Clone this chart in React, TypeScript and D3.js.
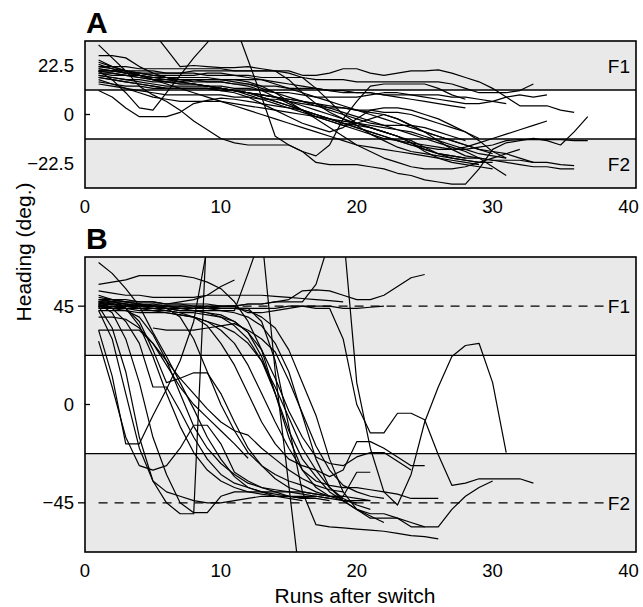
import React from "react";
import * as d3 from "d3";

// ---------- data ----------
const X_TICKS = [0, 10, 20, 30, 40];
const A_TICKS = [-22.5, 0, 22.5];
const B_TICKS = [-45, 0, 45];
const A_RANGE = 33.75;
const A_BAND = 11.25;
const B_RANGE = 67.5;
const B_BAND = 22.5;
const A_FLEVEL = 22.5;
const B_FLEVEL = 45;

type Traj = { start: number; values: number[] };

// Panel A: heading per run (deg.)
const panelA: Traj[] = [
  { start: 1, values: [32, 26, 20, 13, 9, 6, 2, -3, -7, -11, -13, -14, -14, -14, -14, -17, -22, -23, -23, -23, -24, -25, -27, -28, -30, -31, -32, -32, -25, -16, -13, -12, -11, -12, -14, -8, -1] },
  { start: 1, values: [27, 27, 26, 22, 19, 17, 15, 14, 13, 12, 11, 10, 9, 8, 6, 4, 2, 0, -2, -4, -6, -8, -10, -12, -15, -18, -20, -21, -22, -22] },
  { start: 5, values: [38, 30, 22, 22.5, 22, 21.5, 21.5, 22, 21, 20, 16, 10, 5, 1, -2, -5, -9, -12, -15, -17, -18, -19, -20, -21, -22] },
  { start: 1, values: [11, 8, 3, -1, -1, -1, 1, 5, 6.5, 7.5, 7, 6, 5, 4, 3, 2, 0, -2, -4, -5, -6, -8, -10, -13, -16, -18, -19, -20] },
  { start: 1, values: [20, 20, 20, 20, 20, 19, 19, 19, 18, 18, 18, 18, 17, 17, 17, 17, 16, 16, 16, 15, 15, 15, 15, 15, 15, 15, 14, 12, 10, 10, 10, 11, 14] },
  { start: 1, values: [22, 22, 22, 21, 21, 21, 21, 21, 21, 21, 20, 20, 20, 20, 20, 18, 18, 19, 21, 21, 19, 18, 19, 20, 20, 20.5, 19, 17, 15, 12, 8, 4, 4, 4, 2, 1] },
  { start: 1, values: [20, 16, 10, 3, 2, 10, 18, 26, 33, 42, 42, 25, 8, -10, -14, -17, -19, -14, -2, 6, 13, 14, 14, 14, 14, 12, 9, 7] },
  { start: 1, values: [18, 17, 16, 15, 14, 13, 13, 13, 13, 13, 12, 12, 11, 10, 10, 9, 8, 8, 8, 8, 9, 10, 10, 9, 8, 7, 6, 5, 5, 6, 8, 9, 8, 9] },
  { start: 1, values: [24, 22, 20, 18, 16, 15, 14, 14, 13, 12, 11, 9, 7, 5, 3, 1, -1, -3, -5, -7, -9, -11, -12, -13, -14, -15, -16, -16, -15, -14, -12, -11.5, -11.5, -11.5, -11.5, -12, -12] },
  { start: 1, values: [19, 18, 18, 17, 16, 15, 14, 14, 13, 12, 11, 10, 8, 6, 4, 2, 0, -2, -4, -6, -8, -10, -12, -14, -16, -18, -19, -20, -20, -21, -21, -21, -22, -22, -23, -23.5] },
  { start: 1, values: [21, 20, 19, 18, 17, 16, 15, 14, 13, 12, 11, 10, 9, 8, 7, 6, 5, 3, 1, -1, -3, -5, -7, -9, -11, -13, -15, -17, -20, -24, -28] },
  { start: 1, values: [17, 16, 15, 14, 13, 12, 12, 12, 12, 11, 11, 10, 8, 6, 4, 2, 0, -2, -4, -6, -8, -10, -12, -14, -15, -16, -16, -15, -13, -11, -9, -7, -5, -3] },
  { start: 1, values: [16, 14, 12, 10, 8, 7, 6, 6, 6, 6, 5, 4, 3, 2, 1, 0, -1, -2, -3, -4, -5, -6, -7, -8, -10, -12, -14, -16, -18, -19, -20] },
  { start: 1, values: [23, 21, 19, 18, 17, 17, 16, 16, 15, 15, 14, 13, 11, 8, 5, 2, -1, -3, -5, -4, -2, 0, -2, -5, -8, -10, -12, -14, -16, -18] },
  { start: 1, values: [18, 17, 16, 16, 15, 15, 15, 16, 16, 16, 15, 14, 12, 10, 8, 6, 4, 2, 0, -2, -4, -5, -5, -5, -6, -8, -10, -12] },
  { start: 1, values: [15, 14, 13, 13, 12, 12, 12, 12, 12, 11, 10, 8, 5, 2, -1, -4, -6, -8, -6, -2, 2, 3, 3, 2, 0, -2, -5, -8, -11] },
  { start: 1, values: [25, 22, 20, 18, 16, 14, 12, 10, 8, 6, 4, 2, 0, -2, -4, -6, -8, -10, -12, -14, -15, -16, -17, -18, -19, -20, -21, -22, -23] },
  { start: 1, values: [19, 19, 18, 18, 17, 17, 17, 17, 17, 16, 16, 15, 13, 10, 6, 2, -2, -6, -10, -14, -17, -20, -22, -24, -25, -25, -25, -24, -22, -20, -18, -16] },
  { start: 1, values: [21, 20, 19, 19, 18, 18, 18, 18, 19, 19, 18, 17, 16, 14, 12, 10, 8, 6, 4, 2, 0, -2, -4, -6, -8, -10, -12, -14, -16, -17, -18, -20, -22] },
  { start: 1, values: [14, 13, 12, 11, 10, 9, 9, 9, 9, 9, 8, 8, 7, 7, 6, 5, 4, 3, 3, 2, 2, 1, 1, 0, -2, -4, -6, -8, -12, -17, -20] },
  { start: 1, values: [22, 21, 20, 19, 18, 17, 16, 16, 16, 16, 16, 16, 16, 15, 14, 13, 12, 11, 10, 10, 10, 9, 8, 7, 6, 5, 4, 3] },
  { start: 1, values: [20, 20, 20, 19, 19, 19, 19, 20, 20, 20, 20, 20, 20, 20, 19, 17, 12, 6, 0, -4, -6, -8, -10, -13, -17, -20, -22, -23, -24, -25] },
  { start: 1, values: [17, 16, 15, 14, 13, 12, 12, 12, 12, 12, 11, 10, 9, 8, 7, 6, 5, 4, 3, 2, 1, 0, -2, -5, -8, -12, -16, -19, -20, -21, -22, -23, -24, -24, -25, -25] },
  { start: 1, values: [20, 19, 18, 17, 16, 16, 16, 15, 15, 15, 14, 14, 13, 13, 12, 12, 12, 11, 11, 10, 10, 9, 9, 9, 9, 9, 8, 8, 7, 6, 5] },
];

// Panel B: heading per run (deg.)
const panelB: Traj[] = [
  { start: 1, values: [47, 48, 48, 47, 47, 46, 46, 46, 46, 45, 45, 46, 46, 47, 48, 52, 52.5, 52, 50, 48, 48, 50, 54, 58, 59.5] },
  { start: 1, values: [52, 51, 50, 50, 49, 49, 49, 49, 50, 50, 50, 50, 50, 49.5, 49, 48.5, 48, 47.5, 47] },
  { start: 1, values: [44, 45, 45, 46, 45, 45, 44, 44, 45, 45, 45, 42, 42, 43, 44, 45, 45, 45, 44, 44, 44.5, 45] },
  { start: 1, values: [55, 56, 57, 59, 59, 59, 59, 58, 56, 53, 47, 38, 25, 5, -15, -30, -38, -42, -44, -45] },
  { start: 1, values: [48, 47, 46, 45, 46, 46, 47, 48, 50, 54, 57] },
  { start: 1, values: [45, 35, 15, -15, -35, -45, -50, -50, 85] },
  { start: 1, values: [34, 13, -18, -18, -5, 7, 20, 38, 72] },
  { start: 1, values: [44, 44, 45, 44, 44, 44, 43, 43, 43, 43, 43, 60, 78, 15, -37, -90] },
  { start: 1, values: [65, 60, 53, 45, 33, 22, 10, -2, -15, -25, -33, -38, -40, -42, -43, -44] },
  { start: 5, values: [35, 34, 34, 34, 35, 36, 37, 34, 30, 24, 11, -4, -19, -30, -37, -40, -42, -43] },
  { start: 1, values: [29, 8, -15, -28, -30, -28, -20, -9.5, -9.5, -18, -31, -35, -38, -40, -42, -43] },
  { start: 1, values: [46, 46, 44, 38, 25, 10, 12, 14.5, 14.5, 5, -8, -20, -28, -34, -38, -40, -41, -42, -43] },
  { start: 1, values: [47, 44, 38, 28, 8, 8, -3, -15, -25, -32, -36, -38, -40, -41, -42, -42.5, -43] },
  { start: 1, values: [46, 42, 30, 10, -15, -32, -45, -49.5, -49.5, -42, -40, -40, -40, -40, -40, -41, -42, -43, -44, -44, -44] },
  { start: 1, values: [46, 47, 47, 46, 46, 45, 45, 45, 44, 44, 44, 44, 38, 20, -10, -40, -55, -56, -56.5, -57, -57.5, -58, -59, -60, -60.5, -61.5] },
  { start: 1, values: [45, 46, 46, 45, 45, 44, 44, 43, 42, 40, 36, 30, 20, 5, -12, -25, -33, -40, -44, -48, -51, -54] },
  { start: 1, values: [48, 48, 47, 47, 47, 46, 46, 45, 45, 44, 44, 43, 40, 35, 25, 10, -5, -25, -40, -48, -52, -52, -52, -56, -56] },
  { start: 1, values: [43, 43, 43, 42, 42, 42, 41, 40, 38, 34, 28, 18, 5, -8, -20, -30, -35, -37, -38, -38, -39, -40, -41, -43, -43, -43] },
  { start: 1, values: [46, 46, 45, 45, 44, 43, 42, 40, 36, 28, 18, 5, -8, -18, -25, -28, -30, -33, -30, -17, -17, -20, -24, -28, -28] },
  { start: 1, values: [44, 44, 44, 43, 43, 43, 42, 42, 41, 40, 38, 33, 25, 12, -3, -15, -24, -27, -28, -24, -22, -22, -26, -30] },
  { start: 1, values: [49, 48, 47, 46, 45, 44, 40, 30, 15, 0, -12, -22, -28, -32, -35, -37, -40, -42, -42, -31, -31] },
  { start: 1, values: [45, 46, 46, 45, 45, 45, 44, 44, 44, 45, 45, 46, 46, 47, 47, 47, 55, 75, 80, 10, -20, -40, -46, -32, -8, 8, 22, 27, 28, 10, -22] },
  { start: 1, values: [46, 46, 45, 45, 45, 44, 44, 44, 44, 44, 44, 44, 44, 44, 45, 45, 44, 44, 30, 0, -13, -13, -4, -4, -7, -23, -37, -36, -34, -34, -34, -34, -36] },
  { start: 1, values: [47, 47, 46, 46, 45, 45, 45, 44, 44, 43, 42, 40, 36, 28, 15, -5, -25, -38, -44, -48, -50, -50, -52, -54, -56, -56, -48, -42, -38, -35] },
  { start: 1, values: [45, 45, 44, 44, 44, 44, 43, 43, 42, 41, 38, 33, 22, 5] },
  { start: 1, values: [40, 40, 39, 35, 28, 18, 8, 0, -6, -12, -18, -24.6] },
  { start: 1, values: [45, 44, 43, 40, 32, 20, 5, -10, -20, -27, -32, -36, -38, -39, -40, -40, -41, -42, -42, -43, -44] },
  { start: 1, values: [50, 48, 44, 36, 22, 5, -10, -22, -30, -35, -38, -40, -41, -42, -42, -43, -43, -44] },
  { start: 1, values: [43, 30, 5, -20, -35, -40, -42, -44, -45, -45, -44, -43, -42, -42, -42, -42, -42, -43] },
  { start: 1, values: [47, 46, 45, 44, 43, 42, 41, 40, 38, 36, 33, 28, 20, 8, -6, -20, -30, -38, -43, -46, -48] },
  { start: 1, values: [34, 34, 34, 34, 28, 20, 12, 5, -2, -8, -12, -14, -20, -25, -30, -34, -37, -39, -40] },
];

// ---------- drawing ----------
const FONT = "'Liberation Sans', Arial, Helvetica, sans-serif";
const BOX_LEFT = 85;
const BOX_RIGHT = 636;
const GREY = "#e9e9e9";

const xScale = d3.scaleLinear().domain([0, 40]).range([85, 628.5]);

const fmt = (v: number) => (v < 0 ? "\u2212" + Math.abs(v) : String(v));

type PanelProps = {
  id: string;
  letter: string;
  top: number;
  bottom: number;
  range: number;
  band: number;
  ticks: number[];
  fLevel: number;
  dashed: boolean;
  data: Traj[];
};

function Panel({ id, letter, top, bottom, range, band, ticks, fLevel, dashed, data }: PanelProps) {
  const y = d3.scaleLinear().domain([-range, range]).range([bottom, top]);
  const line = d3
    .line<[number, number]>()
    .x((d) => xScale(d[0]))
    .y((d) => y(d[1]));
  const w = BOX_RIGHT - BOX_LEFT;
  return (
    <g>
      <defs>
        <clipPath id={"clip" + id}>
          <rect x={BOX_LEFT} y={top} width={w} height={bottom - top} />
        </clipPath>
      </defs>
      <rect x={BOX_LEFT} y={top} width={w} height={y(band) - top} fill={GREY} />
      <rect x={BOX_LEFT} y={y(-band)} width={w} height={bottom - y(-band)} fill={GREY} />
      <line x1={BOX_LEFT} x2={BOX_RIGHT} y1={y(band)} y2={y(band)} stroke="#000" strokeWidth={1.3} />
      <line x1={BOX_LEFT} x2={BOX_RIGHT} y1={y(-band)} y2={y(-band)} stroke="#000" strokeWidth={1.3} />
      {dashed &&
        [fLevel, -fLevel].map((lv) => (
          <line
            key={lv}
            x1={xScale(1)}
            x2={xScale(38.6)}
            y1={y(lv)}
            y2={y(lv)}
            stroke="#000"
            strokeWidth={1.3}
            strokeDasharray="9,7"
          />
        ))}
      <g clipPath={`url(#clip${id})`}>
        {data.map((t, i) => (
          <path
            key={i}
            d={line(t.values.map((v, j) => [t.start + j, v] as [number, number])) || ""}
            fill="none"
            stroke="#000"
            strokeWidth={1.2}
            strokeLinejoin="round"
          />
        ))}
      </g>
      <rect x={BOX_LEFT} y={top} width={w} height={bottom - top} fill="none" stroke="#000" strokeWidth={1.6} />
      {ticks.map((t) => (
        <g key={t}>
          {t === 0 ? (
            <line x1={BOX_LEFT} x2={BOX_LEFT + 5} y1={y(t)} y2={y(t)} stroke="#000" strokeWidth={1.3} />
          ) : dashed ? (
            <line x1={BOX_LEFT - 7} x2={BOX_LEFT} y1={y(t)} y2={y(t)} stroke="#000" strokeWidth={1.3} />
          ) : null}
          <text x={74} y={y(t) + 6.5} textAnchor="end" fontSize={18.5} fontFamily={FONT}>
            {fmt(t)}
          </text>
        </g>
      ))}
      {X_TICKS.map((t) => (
        <text key={t} x={xScale(t)} y={bottom + 25} textAnchor="middle" fontSize={18.5} fontFamily={FONT}>
          {t}
        </text>
      ))}
      <text x={630} y={y(fLevel) + 7} textAnchor="end" fontSize={19} fontFamily={FONT}>
        F1
      </text>
      <text x={630} y={y(-fLevel) + 7} textAnchor="end" fontSize={19} fontFamily={FONT}>
        F2
      </text>
      <text x={BOX_LEFT + 1} y={top - 8} fontSize={30} fontWeight="bold" fontFamily={FONT}>
        {letter}
      </text>
    </g>
  );
}

export default function App() {
  return (
    <svg
      width={643}
      height={607}
      viewBox="0 0 643 607"
      style={{ position: "absolute", left: 0, top: 0, background: "#fff" }}
    >
      <rect x={0} y={0} width={643} height={607} fill="#fff" />
      <Panel
        id="A"
        letter="A"
        top={41}
        bottom={188}
        range={A_RANGE}
        band={A_BAND}
        ticks={A_TICKS}
        fLevel={A_FLEVEL}
        dashed={false}
        data={panelA}
      />
      <Panel
        id="B"
        letter="B"
        top={257}
        bottom={552}
        range={B_RANGE}
        band={B_BAND}
        ticks={B_TICKS}
        fLevel={B_FLEVEL}
        dashed={true}
        data={panelB}
      />
      <text x={355} y={603} textAnchor="middle" fontSize={21} fontFamily={FONT}>
        Runs after switch
      </text>
      <text
        transform="translate(31,252) rotate(-90)"
        textAnchor="middle"
        fontSize={21}
        fontFamily={FONT}
      >
        Heading (deg.)
      </text>
    </svg>
  );
}
